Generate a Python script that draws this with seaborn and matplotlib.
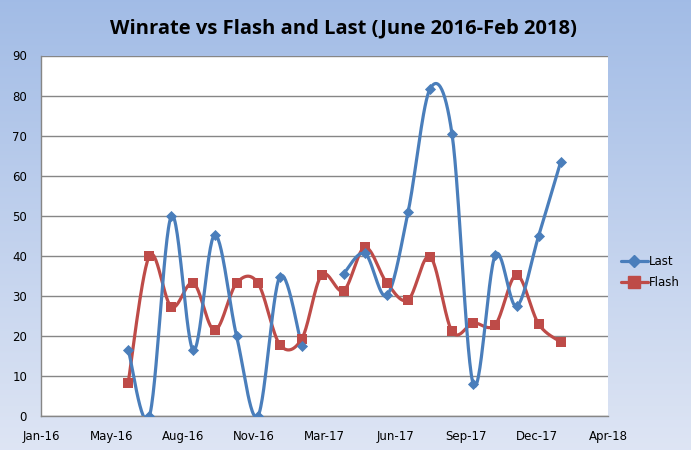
import numpy as np
import pandas as pd
import matplotlib
matplotlib.use("Agg")
import matplotlib.pyplot as plt
import matplotlib.dates as mdates
from matplotlib.lines import Line2D
import seaborn as sns

# ---- data ----
months = ["2016-06-01", "2016-07-01", "2016-08-01", "2016-09-01", "2016-10-01",
          "2016-11-01", "2016-12-01", "2017-01-01", "2017-02-01", "2017-03-01",
          "2017-04-01", "2017-05-01", "2017-06-01", "2017-07-01", "2017-08-01",
          "2017-09-01", "2017-10-01", "2017-11-01", "2017-12-01", "2018-01-01",
          "2018-02-01"]
last = [16.6, 0.0, 49.9, 16.4, 45.2, 19.9, 0.0, 34.8, 17.4, np.nan, 35.5,
        40.6, 30.1, 51.0, 81.7, 70.3, 7.9, 40.2, 27.4, 44.9, 63.3]
flash = [8.3, 40.0, 27.2, 33.2, 21.4, 33.2, 33.2, 17.8, 19.3, 35.2, 31.3,
         42.1, 33.2, 29.0, 39.8, 21.1, 23.2, 22.8, 35.2, 23.0, 18.5]
series_names = ["Last", "Flash"]
y_ticks = [0, 10, 20, 30, 40, 50, 60, 70, 80, 90]
title = "Winrate vs Flash and Last (June 2016-Feb 2018)"

BLUE = "#4A7EBB"
RED = "#BE4B48"

sns.set_style("white")
plt.rcParams["font.family"] = ["DejaVu Sans"]
plt.rcParams["text.color"] = "black"
plt.rcParams["xtick.color"] = "black"
plt.rcParams["ytick.color"] = "black"

dates = pd.to_datetime(months)
xnum = mdates.date2num(dates)


def smooth(x, y, n=30):
    """Catmull-Rom style Bezier smoothing (like Excel's smoothed line)."""
    x = np.asarray(x, float)
    y = np.asarray(y, float)
    P = np.column_stack([x, y])
    out = []
    m = len(P)
    if m == 1:
        return P
    for i in range(m - 1):
        p0 = P[i - 1] if i > 0 else P[i]
        p1 = P[i]
        p2 = P[i + 1]
        p3 = P[i + 2] if i + 2 < m else P[i + 1]
        c1 = p1 + (p2 - p0) / 6.0
        c2 = p2 - (p3 - p1) / 6.0
        t = np.linspace(0, 1, n, endpoint=(i == m - 2))[:, None]
        b = ((1 - t) ** 3) * p1 + 3 * ((1 - t) ** 2) * t * c1 + 3 * (1 - t) * t ** 2 * c2 + t ** 3 * p2
        out.append(b)
    return np.vstack(out)


def curve_frame(x, y):
    y = np.asarray(y, float)
    rows = []
    seg = 0
    idx = []
    for i in range(len(y) + 1):
        if i < len(y) and not np.isnan(y[i]):
            idx.append(i)
        else:
            if idx:
                c = smooth(x[idx], y[idx])
                rows.append(pd.DataFrame({"x": c[:, 0], "y": c[:, 1], "seg": seg}))
                seg += 1
            idx = []
    return pd.concat(rows, ignore_index=True)


fig = plt.figure(figsize=(6.91, 4.5), dpi=100)

# gradient background
bg = fig.add_axes([0, 0, 1, 1], zorder=-10)
top = np.array([0.635, 0.737, 0.902])
bot = np.array([0.870, 0.898, 0.957])
grad = np.linspace(0, 1, 256)[:, None]
img = top[None, None, :] * (1 - grad[:, :, None]) + bot[None, None, :] * grad[:, :, None]
img = np.repeat(img, 2, axis=1)
bg.imshow(img, aspect="auto", extent=[0, 1, 0, 1])
bg.set_axis_off()

ax = fig.add_axes([41 / 691, 1 - 416 / 450, (608 - 41) / 691, (416 - 55.5) / 450])
ax.set_facecolor("white")

df_last = curve_frame(xnum, last)
df_flash = curve_frame(xnum, flash)

LW = 2.3
sns.lineplot(data=df_last, x="x", y="y", units="seg", estimator=None, sort=False,
             color=BLUE, lw=LW, ax=ax, zorder=3, legend=False)
sns.lineplot(data=df_flash, x="x", y="y", units="seg", estimator=None, sort=False,
             color=RED, lw=LW, ax=ax, zorder=2, legend=False)

pts = pd.DataFrame({"x": xnum, "Last": last, "Flash": flash})
sns.scatterplot(data=pts, x="x", y="Flash", marker="s", s=60, color=RED,
                edgecolor=RED, linewidth=0, ax=ax, zorder=4, legend=False)
sns.scatterplot(data=pts.dropna(), x="x", y="Last", marker="D", s=32, color=BLUE,
                edgecolor=BLUE, linewidth=0, ax=ax, zorder=5, legend=False)

# axes
x0 = mdates.date2num(pd.Timestamp("2016-01-30"))
ticks = [x0 + 100 * k for k in range(9)]
ax.set_xlim(ticks[0], ticks[-1])
ax.set_ylim(0, 90)
ax.set_xticks(ticks)
ax.set_xticklabels([mdates.num2date(t).strftime("%b-%y") for t in ticks])
ax.set_yticks(y_ticks)
ax.set_yticklabels([str(v) for v in y_ticks])
ax.tick_params(axis="both", length=0, labelsize=8.5, colors="black")
ax.tick_params(axis="x", pad=10)
ax.tick_params(axis="y", pad=10)
ax.set_xlabel("")
ax.set_ylabel("")
ax.grid(axis="y", color="#868686", lw=1.0)
ax.grid(axis="x", visible=False)
ax.set_axisbelow(True)
for s in ["top", "right"]:
    ax.spines[s].set_visible(False)
for s in ["left", "bottom"]:
    ax.spines[s].set_color("#868686")
    ax.spines[s].set_linewidth(1.0)

# legend
handles = [Line2D([], [], color=BLUE, lw=LW, marker="D", markersize=6),
           Line2D([], [], color=RED, lw=LW, marker="s", markersize=8)]
leg = fig.legend(handles, series_names, loc="center left",
                 bbox_to_anchor=(616 / 691, 1 - 272 / 450), frameon=False,
                 handlelength=2.3, handletextpad=0.1, labelspacing=0.7, fontsize=8.5,
                 borderaxespad=0)
for t in leg.get_texts():
    t.set_color("black")

fig.text(343 / 691, 1 - 28 / 450, title, ha="center", va="center", color="black",
         fontsize=14.5, fontweight="bold", family=["Open Sans", "DejaVu Sans"])

fig.savefig("out.png", dpi=100)
